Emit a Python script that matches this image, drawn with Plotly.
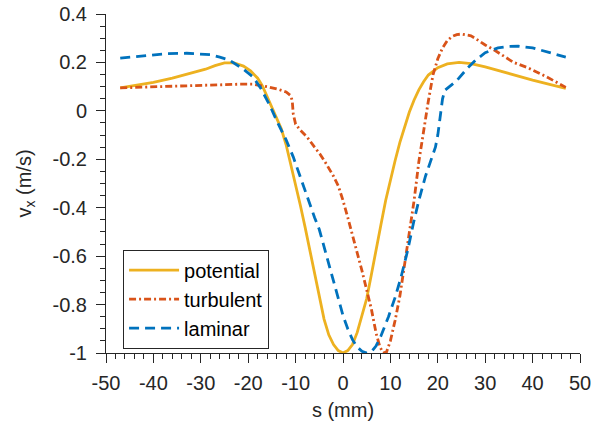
import plotly.graph_objects as go

# ---------------- data ----------------
s_potential = [-47, -44, -40, -36, -32, -29, -27, -25, -23, -21, -19.5, -18, -17, -16, -15, -14,
               -13, -12, -11, -10, -9, -8, -7, -6, -5, -4, -3, -2, -1, 0, 1, 2, 3, 4, 5, 6, 7,
               8, 9, 10, 11, 12, 13, 14, 15, 16, 17, 18, 20, 22, 24.5, 27, 30, 33, 36, 40, 44, 47]
v_potential = [0.095, 0.105, 0.118, 0.135, 0.155, 0.172, 0.187, 0.198, 0.198, 0.185, 0.165, 0.135,
               0.103, 0.06, 0.015, -0.03, -0.075, -0.14, -0.22, -0.305, -0.39, -0.48, -0.575,
               -0.67, -0.77, -0.86, -0.925, -0.965, -0.99, -1.0, -0.99, -0.965, -0.915, -0.85,
               -0.775, -0.675, -0.565, -0.47, -0.37, -0.285, -0.205, -0.13, -0.065, -0.005, 0.045,
               0.087, 0.12, 0.148, 0.178, 0.194, 0.2, 0.195, 0.182, 0.165, 0.148, 0.127, 0.107, 0.093]

s_turbulent = [-47, -40, -35, -30, -26, -22, -19, -16, -13.5, -12, -11, -10.7, -10.5, -10, -9,
               -7.5, -6, -4.8, -3.5, -2, -1, 0, 1, 2, 3, 4, 5, 6, 7, 7.8, 8.5, 9.2, 10, 11, 12,
               13, 14, 15, 16, 17, 18, 19, 20, 21, 22, 23, 24, 25, 26, 27, 28, 30, 32, 36, 39,
               43, 47]
v_turbulent = [0.095, 0.1, 0.103, 0.106, 0.108, 0.11, 0.11, 0.1, 0.088, 0.078, 0.062, 0.04,
               -0.012, -0.055, -0.08, -0.11, -0.15, -0.18, -0.22, -0.27, -0.31, -0.37, -0.44,
               -0.51, -0.58, -0.66, -0.74, -0.82, -0.92, -0.975, -1.0, -0.995, -0.95, -0.865,
               -0.765, -0.635, -0.5, -0.37, -0.21, -0.08, 0.04, 0.15, 0.215, 0.26, 0.29, 0.307,
               0.315, 0.317, 0.315, 0.31, 0.298, 0.272, 0.25, 0.2, 0.178, 0.14, 0.097]

s_laminar = [-47, -42, -37, -33, -30, -28, -26, -24, -21, -19, -17.4, -15.5, -14, -12, -10.5,
             -9, -7.5, -6, -5, -4, -3, -2, -1, 0, 1, 2, 3, 4, 5, 6, 7, 8, 9.6, 11, 12.2, 13.6,
             14.9, 16, 17.4, 18.9, 19.5, 20, 20.5, 21, 21.5, 22.5, 24, 26.3, 28, 30, 32.7, 35,
             37, 40, 43, 47]
v_laminar = [0.218, 0.228, 0.236, 0.238, 0.236, 0.232, 0.222, 0.21, 0.172, 0.14, 0.095, 0.025,
             -0.04, -0.12, -0.19, -0.275, -0.36, -0.44, -0.49, -0.56, -0.635, -0.705, -0.775,
             -0.845, -0.9, -0.945, -0.975, -0.993, -1.0, -0.995, -0.97, -0.93, -0.85, -0.77,
             -0.69, -0.58, -0.46, -0.37, -0.27, -0.18, -0.15, -0.1, -0.02, 0.05, 0.085, 0.1,
             0.125, 0.177, 0.21, 0.24, 0.26, 0.266, 0.267, 0.26, 0.245, 0.222]

series_names = ["potential", "turbulent", "laminar"]

x_tickvals = [-50, -40, -30, -20, -10, 0, 10, 20, 30, 40, 50]
x_ticktext = ["-50", "-40", "-30", "-20", "-10", "0", "10", "20", "30", "40", "50"]
y_tickvals = [-1, -0.8, -0.6, -0.4, -0.2, 0, 0.2, 0.4]
y_ticktext = ["-1", "-0.8", "-0.6", "-0.4", "-0.2", "0", "0.2", "0.4"]

# ---------------- figure ----------------
FONT = "Liberation Sans, Arial, Helvetica, sans-serif"
AXC = "#262626"
FS = 20

fig = go.Figure()
fig.add_trace(go.Scatter(x=s_potential, y=v_potential, mode="lines", name=series_names[0],
                         line=dict(color="#EDB120", width=2.8, dash="solid")))
fig.add_trace(go.Scatter(x=s_turbulent, y=v_turbulent, mode="lines", name=series_names[1],
                         line=dict(color="#D95319", width=2.8, dash="7px,3px,2px,3px")))
fig.add_trace(go.Scatter(x=s_laminar, y=v_laminar, mode="lines", name=series_names[2],
                         line=dict(color="#0072BD", width=2.8, dash="10px,6px")))

fig.update_layout(
    width=596, height=421,
    margin=dict(l=106, r=16, t=14, b=68, autoexpand=False),
    paper_bgcolor="white", plot_bgcolor="white",
    font=dict(family=FONT, size=FS, color=AXC),
    showlegend=True,
    legend=dict(x=0.036, y=0.305, xanchor="left", yanchor="top",
                bgcolor="white", bordercolor="#262626", borderwidth=1,
                font=dict(family=FONT, size=FS, color="black"),
                itemwidth=50, tracegroupgap=0),
)
fig.update_xaxes(
    range=[-50, 50], showgrid=False, zeroline=False, automargin=False,
    showline=True, linecolor=AXC, linewidth=1,
    tickmode="array", tickvals=x_tickvals, ticktext=x_ticktext,
    ticks="outside", ticklen=9, tickcolor=AXC, tickwidth=1,
    ticklabelstandoff=3,
    tickfont=dict(family=FONT, size=FS, color=AXC),
    minor=dict(ticks="outside", ticklen=5, tickcolor=AXC, tick0=-50, dtick=2, showgrid=False),
    title=dict(text="s (mm)", font=dict(family=FONT, size=FS, color=AXC), standoff=16),
)
fig.update_yaxes(
    range=[-1, 0.4], showgrid=False, zeroline=False, automargin=False,
    showline=True, linecolor=AXC, linewidth=1,
    tickmode="array", tickvals=y_tickvals, ticktext=y_ticktext,
    ticks="outside", ticklen=9, tickcolor=AXC, tickwidth=1,
    ticklabelstandoff=5,
    tickfont=dict(family=FONT, size=FS, color=AXC),
    minor=dict(ticks="outside", ticklen=5, tickcolor=AXC, tick0=-1, dtick=0.05, showgrid=False),
    title=dict(text="v<sub>x</sub> (m/s)", font=dict(family=FONT, size=FS, color=AXC), standoff=15),
)

# remove the page's default 8px body margin so the figure fills the window exactly
fig.write_html("out.html", config={"displayModeBar": False},
               post_script="document.body.style.margin='0';")
